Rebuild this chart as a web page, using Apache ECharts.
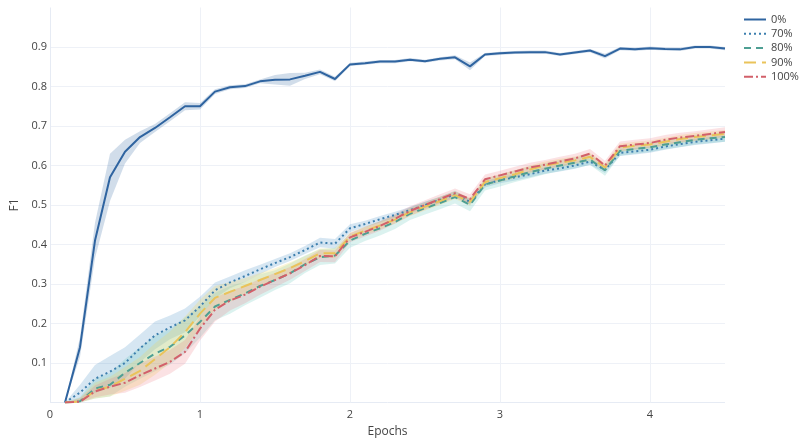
<!DOCTYPE html>
<html>
<head>
<meta charset="utf-8">
<script src="https://cdn.jsdelivr.net/npm/echarts@6/dist/echarts.min.js"></script>
<style>html,body{margin:0;padding:0;background:#fff;}#c{width:799px;height:439px;}</style>
</head>
<body>
<div id="c"></div>
<script>
const epochs = [0.1,0.2,0.3,0.4,0.5,0.6,0.7,0.8,0.9,1.0,1.1,1.2,1.3,1.4,1.5,1.6,1.7,1.8,1.9,2.0,2.1,2.2,2.3,2.4,2.5,2.6,2.7,2.8,2.9,3.0,3.1,3.2,3.3,3.4,3.5,3.6,3.7,3.8,3.9,4.0,4.1,4.2,4.3,4.4,4.5];
const seriesNames = ['0%','70%','80%','90%','100%'];
const f1_0 = [0,0.14,0.41,0.57,0.635,0.672,0.695,0.722,0.750,0.750,0.787,0.798,0.801,0.813,0.817,0.818,0.827,0.837,0.819,0.856,0.859,0.863,0.863,0.868,0.864,0.870,0.874,0.851,0.881,0.884,0.886,0.887,0.887,0.881,0.886,0.891,0.877,0.896,0.894,0.897,0.895,0.894,0.900,0.900,0.896];
const f1_70 = [0,0.025,0.06,0.078,0.10,0.137,0.17,0.19,0.208,0.243,0.284,0.304,0.320,0.337,0.353,0.368,0.386,0.405,0.402,0.441,0.452,0.464,0.475,0.487,0.500,0.513,0.527,0.508,0.552,0.563,0.570,0.578,0.587,0.593,0.600,0.610,0.589,0.632,0.636,0.640,0.648,0.654,0.660,0.664,0.668];
const f1_80 = [0,0.003,0.035,0.045,0.075,0.10,0.124,0.141,0.170,0.204,0.243,0.260,0.276,0.295,0.310,0.327,0.350,0.368,0.372,0.410,0.427,0.441,0.457,0.478,0.492,0.505,0.520,0.500,0.552,0.562,0.573,0.583,0.592,0.600,0.607,0.615,0.588,0.637,0.642,0.646,0.653,0.659,0.665,0.669,0.672];
const f1_90 = [0,0.002,0.03,0.04,0.06,0.08,0.11,0.14,0.178,0.225,0.265,0.280,0.295,0.310,0.325,0.340,0.358,0.378,0.378,0.420,0.435,0.448,0.463,0.482,0.496,0.510,0.525,0.508,0.558,0.568,0.578,0.590,0.600,0.607,0.613,0.622,0.595,0.645,0.650,0.653,0.660,0.667,0.672,0.676,0.680];
const f1_100 = [0,0.002,0.028,0.04,0.05,0.069,0.086,0.103,0.128,0.187,0.235,0.258,0.273,0.293,0.310,0.327,0.348,0.371,0.370,0.418,0.432,0.447,0.465,0.485,0.500,0.515,0.530,0.515,0.565,0.575,0.585,0.595,0.602,0.610,0.618,0.630,0.600,0.649,0.653,0.657,0.665,0.671,0.675,0.680,0.685];
// half-width of the shaded band around each mean line
const band_0 = [0,0.025,0.045,0.06,0.03,0.015,0.01,0.01,0.01,0.008,0.006,0.005,0.005,0.005,0.012,0.016,0.008,0.006,0.006,0.004,0.004,0.004,0.004,0.004,0.004,0.004,0.005,0.01,0.004,0.004,0.004,0.004,0.004,0.004,0.004,0.004,0.006,0.004,0.004,0.004,0.004,0.004,0.004,0.004,0.004];
const band_70 = [0,0.02,0.035,0.04,0.04,0.035,0.035,0.03,0.03,0.025,0.02,0.015,0.015,0.012,0.01,0.01,0.01,0.012,0.012,0.01,0.008,0.008,0.008,0.008,0.008,0.008,0.008,0.008,0.008,0.008,0.008,0.008,0.008,0.008,0.008,0.008,0.008,0.008,0.008,0.008,0.008,0.008,0.008,0.008,0.008];
const band_80 = [0,0.01,0.025,0.03,0.035,0.04,0.045,0.045,0.045,0.04,0.035,0.035,0.03,0.03,0.025,0.025,0.022,0.02,0.02,0.018,0.018,0.018,0.018,0.016,0.016,0.016,0.016,0.016,0.015,0.015,0.015,0.015,0.014,0.014,0.014,0.014,0.014,0.012,0.012,0.012,0.012,0.012,0.012,0.012,0.012];
const band_90 = [0,0.01,0.02,0.025,0.03,0.035,0.04,0.04,0.04,0.035,0.03,0.025,0.02,0.018,0.015,0.015,0.012,0.012,0.012,0.01,0.01,0.01,0.01,0.01,0.01,0.01,0.01,0.01,0.01,0.01,0.01,0.01,0.01,0.01,0.01,0.01,0.01,0.01,0.01,0.01,0.01,0.01,0.01,0.01,0.01];
const band_100 = [0,0.008,0.015,0.02,0.025,0.03,0.03,0.03,0.03,0.03,0.03,0.025,0.022,0.02,0.018,0.016,0.015,0.015,0.015,0.012,0.012,0.012,0.012,0.012,0.012,0.012,0.012,0.012,0.012,0.012,0.012,0.012,0.012,0.012,0.012,0.012,0.012,0.012,0.012,0.012,0.012,0.012,0.012,0.012,0.012];
const yTicks = [0.1,0.2,0.3,0.4,0.5,0.6,0.7,0.8,0.9];
const xTicks = [0,1,2,3,4];

const means = [f1_0, f1_70, f1_80, f1_90, f1_100];
const bands = [band_0, band_70, band_80, band_90, band_100];
const lineColors = ['#2f64a0','#3d7fae','#4e9f93','#eac35a','#d2606a'];
const fillColors = ['rgba(47,100,160,0.22)','rgba(70,140,195,0.22)','rgba(90,195,180,0.22)','rgba(245,215,90,0.25)','rgba(235,110,120,0.2)'];
const dashes = ['solid',[2,3],[7,5],[12,6],[9,3,2,3]];

const series = [];
means.forEach((m, k) => {
  const hw = bands[k];
  series.push({
    type: 'custom',
    name: seriesNames[k] + ' band',
    silent: true,
    z: 1,
    data: [[epochs[0], m[0]]],
    renderItem: function (params, api) {
      const pts = [];
      for (let i = 0; i < epochs.length; i++) pts.push(api.coord([epochs[i], m[i] + hw[i]]));
      for (let i = epochs.length - 1; i >= 0; i--) pts.push(api.coord([epochs[i], Math.max(0, m[i] - hw[i])]));
      return { type: 'polygon', shape: { points: pts }, style: { fill: fillColors[k] } };
    }
  });
});
means.forEach((m, k) => {
  series.push({
    type: 'line',
    name: seriesNames[k],
    z: 3,
    symbol: 'none',
    data: epochs.map((e, i) => [e, m[i]]),
    lineStyle: { color: lineColors[k], width: 2, type: dashes[k] },
    itemStyle: { color: lineColors[k] }
  });
});

const chart = echarts.init(document.getElementById('c'));
chart.setOption({
  animation: false,
  backgroundColor: '#fff',
  textStyle: { fontFamily: 'Open Sans, DejaVu Sans, sans-serif' },
  legend: {
    data: seriesNames,
    orient: 'vertical',
    left: 743,
    top: 14,
    padding: 0,
    itemWidth: 22,
    itemHeight: 10,
    itemGap: 3.3,
    itemStyle: { opacity: 0 },
    textStyle: { color: '#444', fontSize: 11, lineHeight: 10 }
  },
  grid: { left: 50, right: 74, top: 7.5, bottom: 36.5, outerBoundsMode: 'none', containLabel: false },
  xAxis: {
    type: 'value',
    min: 0, max: 4.5, interval: 1,
    name: 'Epochs', nameLocation: 'middle', nameGap: 22,
    nameTextStyle: { color: '#444', fontSize: 12 },
    axisLine: { show: false }, axisTick: { show: false },
    axisLabel: { color: '#444', fontSize: 11, margin: 7,
      formatter: v => xTicks.indexOf(v) >= 0 ? String(v) : '' },
    splitLine: { show: true, lineStyle: { color: ['#e6ebf4','#eef1f7','#eef1f7','#eef1f7','#eef1f7','rgba(0,0,0,0)'], width: 1 } }
  },
  yAxis: {
    type: 'value',
    min: 0, max: 1.0, interval: 0.1,
    name: 'F1', nameLocation: 'middle', nameGap: 24,
    nameTextStyle: { color: '#444', fontSize: 12 },
    axisLine: { show: false }, axisTick: { show: false },
    axisLabel: { color: '#444', fontSize: 11, margin: 3,
      formatter: v => { const r = Math.round(v * 10) / 10; return yTicks.indexOf(r) >= 0 ? r.toFixed(1) : ''; } },
    splitLine: { show: true, lineStyle: { color: ['#e6ebf4','#eef1f7','#eef1f7','#eef1f7','#eef1f7','#eef1f7','#eef1f7','#eef1f7','#eef1f7','#eef1f7','rgba(0,0,0,0)'], width: 1 } }
  },
  series: series
});
</script>
</body>
</html>
